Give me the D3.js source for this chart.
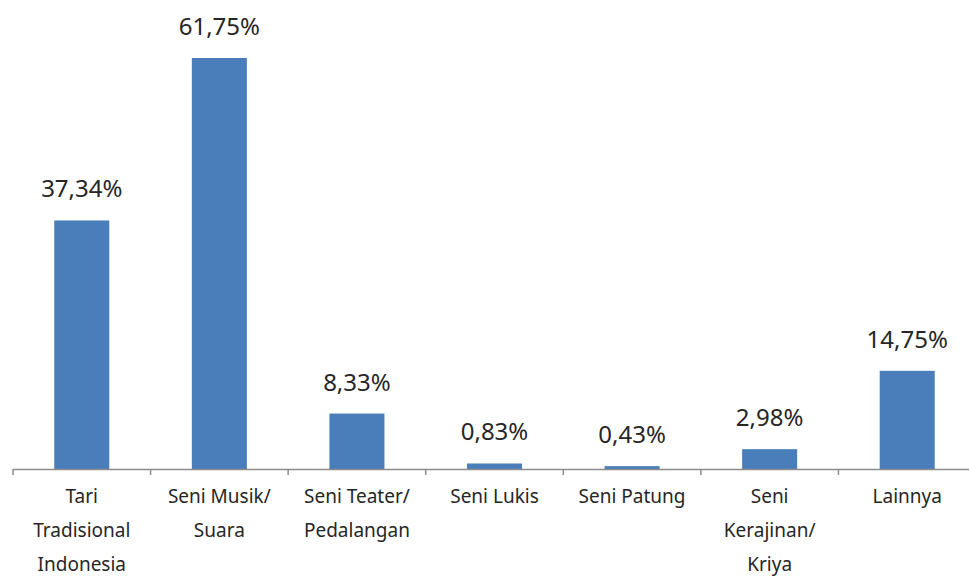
<!DOCTYPE html>
<html>
<head>
<meta charset="utf-8">
<script src="https://cdn.jsdelivr.net/npm/d3@7"></script>
<style>
  body { margin: 0; background: #fff; }
  text { font-family: "Noto Sans", "DejaVu Sans", sans-serif; fill: #262626; }
</style>
</head>
<body>
<svg id="chart"></svg>
<script>
// data
const categories = [
  ["Tari", "Tradisional", "Indonesia"],
  ["Seni Musik/", "Suara"],
  ["Seni Teater/", "Pedalangan"],
  ["Seni Lukis"],
  ["Seni Patung"],
  ["Seni", "Kerajinan/", "Kriya"],
  ["Lainnya"]
];
const values = [37.34, 61.75, 8.33, 0.83, 0.43, 2.98, 14.75];
const valueLabels = ["37,34%", "61,75%", "8,33%", "0,83%", "0,43%", "2,98%", "14,75%"];

const width = 969, height = 578;
const margin = {top: 58, left: 13, bottom: 109};
const plotW = 963;   // the original chart runs past the right edge
const baseY = height - margin.bottom;

const svg = d3.select("#chart").attr("width", width).attr("height", height);

const x = d3.scaleBand()
  .domain(d3.range(values.length))
  .range([margin.left, margin.left + plotW])
  .paddingInner(0.6)
  .paddingOuter(0.3);

const y = d3.scaleLinear()
  .domain([0, 61.75])
  .range([baseY, margin.top]);

const step = x.step();
const x0 = margin.left;

// bars
svg.append("g").selectAll("rect")
  .data(values)
  .join("rect")
    .attr("x", (d, i) => x(i))
    .attr("y", d => y(d))
    .attr("width", x.bandwidth())
    .attr("height", d => baseY - y(d))
    .attr("fill", "#4a7ebb");

// axis line + ticks between categories
const axis = svg.append("g");
axis.append("line")
  .attr("x1", x0).attr("x2", width)
  .attr("y1", baseY + 0.5).attr("y2", baseY + 0.5)
  .attr("stroke", "#8c8c8c").attr("stroke-width", 1.5);
axis.selectAll("line.tick")
  .data(d3.range(values.length + 1))
  .join("line")
    .attr("class", "tick")
    .attr("x1", i => x0 + i * step).attr("x2", i => x0 + i * step)
    .attr("y1", baseY).attr("y2", baseY + 6)
    .attr("stroke", "#8c8c8c").attr("stroke-width", 1.5);

// value labels
svg.append("g").selectAll("text")
  .data(values)
  .join("text")
    .attr("x", (d, i) => x(i) + x.bandwidth() / 2)
    .attr("y", d => y(d) - 23)
    .attr("text-anchor", "middle")
    .attr("font-size", 24)
    .text((d, i) => valueLabels[i]);

// category labels
const cat = svg.append("g").selectAll("text")
  .data(categories)
  .join("text")
    .attr("text-anchor", "middle")
    .attr("font-size", 19)
    .attr("y", baseY + 34);
cat.selectAll("tspan")
  .data((d, i) => d.map(t => ({t, i})))
  .join("tspan")
    .attr("x", d => x(d.i) + x.bandwidth() / 2)
    .attr("dy", (d, j) => j === 0 ? 0 : 34)
    .text(d => d.t);
</script>
</body>
</html>
